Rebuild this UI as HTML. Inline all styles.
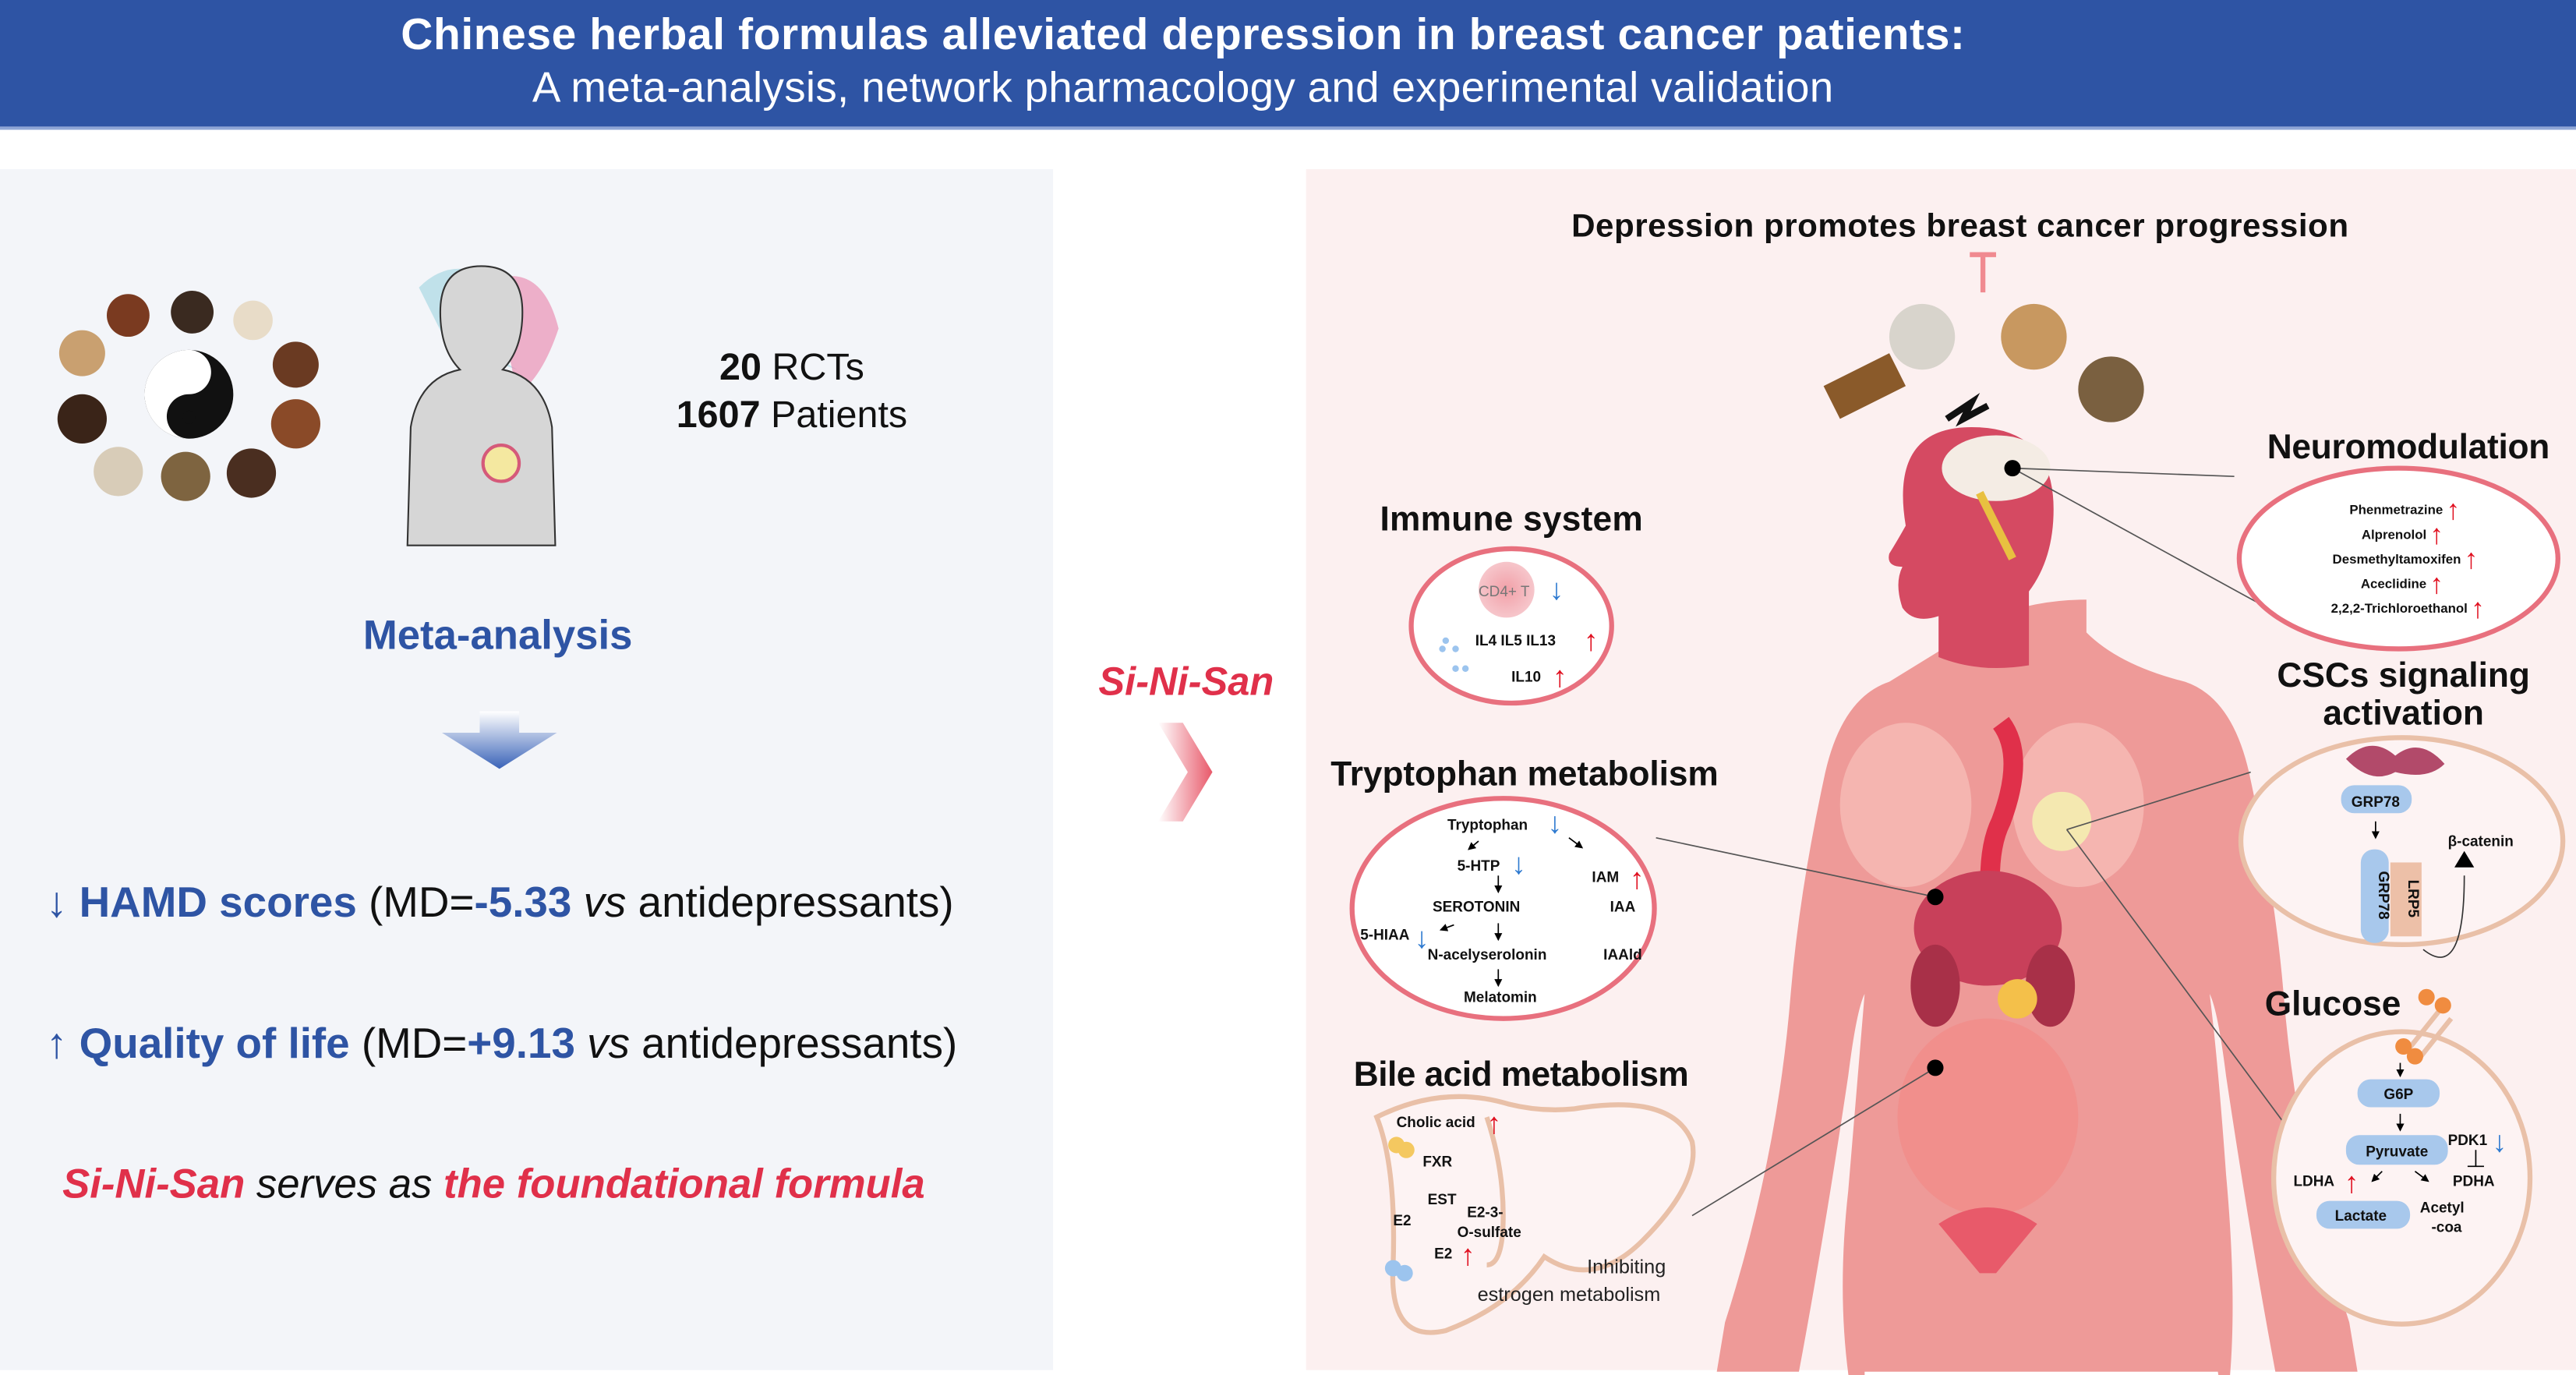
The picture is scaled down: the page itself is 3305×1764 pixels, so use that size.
<!DOCTYPE html>
<html><head><meta charset="utf-8"><style>
html,body{margin:0;padding:0;background:#fff;width:3305px;height:1764px;overflow:hidden;}
svg{display:block;}
text{font-family:"Liberation Sans","DejaVu Sans",sans-serif;}
</style></head><body>
<svg width="3305" height="1764" viewBox="0 0 1568 837" preserveAspectRatio="none" xmlns="http://www.w3.org/2000/svg">
<defs>
<linearGradient id="ag" x1="0" y1="0" x2="0" y2="1"><stop offset="0" stop-color="#fff"/><stop offset="1" stop-color="#3A63B8"/></linearGradient>
<linearGradient id="rg" x1="0" y1="0" x2="1" y2="0"><stop offset="0" stop-color="#fff"/><stop offset="1" stop-color="#E8596A"/></linearGradient>
<radialGradient id="cd4"><stop offset="0" stop-color="#F2A0A8"/><stop offset="1" stop-color="#F6C6CB"/></radialGradient>
<marker id="ah" markerWidth="6" markerHeight="6" refX="5" refY="3" orient="auto"><path d="M0,0 L6,3 L0,6z" fill="#000"/></marker>
</defs>
<rect width="1568" height="837" fill="#fff"/>
<rect width="1568" height="78" fill="#2E54A4"/>
<rect y="77" width="1568" height="2" fill="#8FA6D6"/>
<text x="720" y="30" text-anchor="middle" font-size="27" font-weight="bold" fill="#fff" textLength="952">Chinese herbal formulas alleviated depression in breast cancer patients:</text>
<text x="720" y="62" text-anchor="middle" font-size="26" fill="#fff" textLength="792">A meta-analysis, network pharmacology and experimental validation</text>

<rect x="0" y="103" width="641" height="731" fill="#F3F5F9"/>
<rect x="795" y="103" width="773" height="731" fill="#FCF0F0"/>

<g>
<circle cx="115" cy="240" r="27" fill="#111"/>
<path d="M115,213 a13.5,13.5 0 0 1 0,27 a13.5,13.5 0 0 0 0,27 a27,27 0 0 1 0,-54z" fill="#fff"/>
<circle cx="115" cy="227" r="4" fill="#fff"/><circle cx="115" cy="254" r="4" fill="#111"/>
<circle cx="78" cy="192" r="13" fill="#7A3A20"/><circle cx="117" cy="190" r="13" fill="#3A2A20"/><circle cx="154" cy="195" r="12" fill="#E8DCC8"/>
<circle cx="50" cy="215" r="14" fill="#C9A070"/><circle cx="180" cy="222" r="14" fill="#6A3A22"/>
<circle cx="50" cy="255" r="15" fill="#3A2418"/><circle cx="180" cy="258" r="15" fill="#8A4A28"/>
<circle cx="72" cy="287" r="15" fill="#D8CCB8"/><circle cx="113" cy="290" r="15" fill="#7E6440"/><circle cx="153" cy="288" r="15" fill="#4A2E20"/>
</g>
<g>
<path d="M255,175 q20,-20 45,-5 q20,30 10,35 q-15,10 5,20 q-30,-10 -40,-10 z" fill="#9FD3E0" opacity=".6"/>
<path d="M300,170 q30,-10 40,30 q-10,30 -25,40 z" fill="#E86A9A" opacity=".5"/>
<path d="M248,332 L250,260 q5,-30 30,-35 q-12,-12 -12,-35 q0,-28 25,-28 q25,0 25,28 q0,23 -12,35 q25,5 30,35 L338,332z" fill="#D6D6D6" stroke="#333" stroke-width="1"/>
<circle cx="305" cy="282" r="11" fill="#F4E8A0" stroke="#D55A7A" stroke-width="2"/>
</g>
<text x="482" y="231" text-anchor="middle" font-size="23" fill="#111"><tspan font-weight="bold">20</tspan> RCTs</text>
<text x="482" y="260" text-anchor="middle" font-size="23" fill="#111"><tspan font-weight="bold">1607</tspan> Patients</text>
<text x="303" y="395" text-anchor="middle" font-size="25" font-weight="bold" fill="#2E54A4">Meta-analysis</text>
<path d="M292,433 h24 v13 h23 l-35,22 l-35,-22 h23z" fill="url(#ag)"/>
<text x="28" y="558" font-size="26" fill="#111"><tspan fill="#2E54A4" font-weight="bold">↓ HAMD scores</tspan> (MD=<tspan fill="#2E54A4" font-weight="bold">-5.33</tspan> <tspan font-style="italic">vs</tspan> antidepressants)</text>
<text x="28" y="644" font-size="26" fill="#111"><tspan fill="#2E54A4" font-weight="bold">↑ Quality of life</tspan> (MD=<tspan fill="#2E54A4" font-weight="bold">+9.13</tspan> <tspan font-style="italic">vs</tspan> antidepressants)</text>
<text x="38" y="729" font-size="25" fill="#111" font-style="italic"><tspan fill="#E0304A" font-weight="bold">Si-Ni-San</tspan> serves as <tspan fill="#E0304A" font-weight="bold">the foundational formula</tspan></text>

<text x="722" y="423" text-anchor="middle" font-size="24" font-weight="bold" font-style="italic" fill="#E0304A">Si-Ni-San</text>
<path d="M705,440 h15 l18,30 l-18,30 h-15 l18,-30z" fill="url(#rg)"/>

<text x="1193" y="144" text-anchor="middle" font-size="20" font-weight="bold" fill="#111" textLength="473">Depression promotes breast cancer progression</text>
<path d="M1199,155 h16 M1207,155 v23" stroke="#F08A90" stroke-width="3"/>
<g>
<circle cx="1170" cy="205" r="20" fill="#D8D4CC"/><circle cx="1238" cy="205" r="20" fill="#C89860"/><circle cx="1285" cy="237" r="20" fill="#7A6040"/>
<path d="M1110,235 l40,-20 l10,20 l-40,20z" fill="#8A5A2A"/>
<path d="M1185,255 l15,-10 l-5,10 l15,-8" stroke="#111" stroke-width="4" fill="none"/>
</g>
<path d="M1150,415 q-30,10 -40,60 q-15,70 -20,130 q-8,100 -40,200 l-5,30 h50 q15,-80 30,-180 q5,-40 10,-50 q-5,60 -10,120 q-10,90 10,160 l0,-50 h215 q5,30 0,50 q15,-60 5,-170 q-5,-70 -10,-110 q5,10 10,50 q15,100 30,180 h50 l-5,-30 q-32,-100 -40,-200 q-5,-60 -20,-130 q-10,-50 -40,-60 q-40,-10 -60,-30 l0,-20 q-30,0 -55,10 z" fill="#EE9A98"/>
<path d="M1160,320 q-10,-60 40,-60 q50,0 50,50 q0,30 -15,50 l0,45 q-30,5 -55,-5 l0,-25 q-15,5 -22,-5 q-5,-15 0,-25 q-10,0 -8,-8 q5,-8 10,-17z" fill="#D54A62"/>
<ellipse cx="1215" cy="285" rx="33" ry="20" fill="#F4ECE4"/>
<path d="M1205,300 l20,40" stroke="#E8C040" stroke-width="5"/>
<ellipse cx="1160" cy="490" rx="40" ry="50" fill="#F5B5B0"/><ellipse cx="1265" cy="490" rx="40" ry="50" fill="#F5B5B0"/>
<circle cx="1255" cy="500" r="18" fill="#F4E8B0"/>
<path d="M1218,440 q15,20 0,60 q-10,20 -5,60" stroke="#E0304A" stroke-width="12" fill="none"/>
<ellipse cx="1210" cy="565" rx="45" ry="35" fill="#C8405A"/>
<ellipse cx="1178" cy="600" rx="15" ry="25" fill="#A83048"/><ellipse cx="1248" cy="600" rx="15" ry="25" fill="#A83048"/>
<circle cx="1228" cy="608" r="12" fill="#F4C04A"/>
<ellipse cx="1210" cy="680" rx="55" ry="60" fill="#F28A88" opacity=".7"/>
<path d="M1180,745 q30,-20 60,0 l-25,30 h-10z" fill="#E85A6A"/>
<g stroke="#555" stroke-width=".8" fill="none">
<path d="M1225,285 L1360,290"/><path d="M1225,285 L1380,370"/>
<path d="M1008,510 L1178,546"/><path d="M1030,740 L1178,650"/>
<path d="M1258,505 L1370,470"/><path d="M1258,505 L1395,690"/>
</g>
<circle cx="1225" cy="285" r="5" fill="#000"/><circle cx="1178" cy="546" r="5" fill="#000"/><circle cx="1178" cy="650" r="5" fill="#000"/>

<text x="920" y="323" text-anchor="middle" font-size="21" font-weight="bold" fill="#111" textLength="160">Immune system</text>
<ellipse cx="920" cy="381" rx="61" ry="47" fill="#fff" stroke="#E8707E" stroke-width="3"/>
<circle cx="917" cy="359" r="17" fill="url(#cd4)"/>
<text x="900" y="363" font-size="9" fill="#777">CD4+ T</text><text x="943" y="365" font-size="18" fill="#2E7AD0" font-weight="bold">↓</text>
<text x="898" y="393" font-size="9" font-weight="bold" fill="#111">IL4  IL5  IL13</text><text x="964" y="396" font-size="18" fill="#E01020" font-weight="bold">↑</text>
<text x="920" y="415" font-size="9" font-weight="bold" fill="#111">IL10</text><text x="945" y="418" font-size="18" fill="#E01020" font-weight="bold">↑</text>
<g fill="#9CC4EE"><circle cx="880" cy="390" r="2"/><circle cx="886" cy="395" r="2"/><circle cx="878" cy="395" r="2"/><circle cx="886" cy="407" r="2"/><circle cx="892" cy="407" r="2"/></g>

<text x="928" y="478" text-anchor="middle" font-size="21" font-weight="bold" fill="#111" textLength="236">Tryptophan metabolism</text>
<ellipse cx="915" cy="553" rx="92" ry="67" fill="#fff" stroke="#E8707E" stroke-width="3"/>
<g font-size="9" font-weight="bold" fill="#111">
<text x="881" y="505">Tryptophan</text><text x="887" y="530">5-HTP</text><text x="872" y="555">SEROTONIN</text>
<text x="828" y="572">5-HIAA</text><text x="869" y="584">N-acelyserolonin</text><text x="891" y="610">Melatomin</text>
<text x="969" y="537">IAM</text><text x="980" y="555">IAA</text><text x="976" y="584">IAAld</text>
</g>
<g font-size="18" font-weight="bold"><text x="942" y="507" fill="#2E7AD0">↓</text><text x="920" y="532" fill="#2E7AD0">↓</text><text x="861" y="577" fill="#2E7AD0">↓</text><text x="992" y="541" fill="#E01020">↑</text></g>
<g stroke="#000" stroke-width=".8" marker-end="url(#ah)"><path d="M912,533 v10"/><path d="M912,562 v10"/><path d="M912,590 v10"/><path d="M900,512 l-6,5"/><path d="M955,510 l8,6"/><path d="M885,563 l-8,3"/></g>

<text x="926" y="661" text-anchor="middle" font-size="21" font-weight="bold" fill="#111" textLength="204">Bile acid metabolism</text>
<path d="M838,680 q40,-20 80,-8 q20,5 40,3 q60,-10 72,20 q5,25 -30,60 q-30,30 -60,10 q-20,30 -60,45 q-35,8 -32,-40 q2,-60 -10,-90z" fill="#FDF3F3" stroke="#E9C0A8" stroke-width="3"/>
<path d="M905,680 q10,30 10,60 q0,30 -10,30" stroke="#E9C0A8" stroke-width="3" fill="none"/>
<g font-size="9" font-weight="bold" fill="#111">
<text x="850" y="686">Cholic acid</text><text x="866" y="710">FXR</text><text x="869" y="733">EST</text>
<text x="848" y="746">E2</text><text x="893" y="741">E2-3-</text><text x="887" y="753">O-sulfate</text><text x="873" y="766">E2</text>
</g>
<g font-size="18" font-weight="bold" fill="#E01020"><text x="905" y="690">↑</text><text x="889" y="770">↑</text></g>
<text x="990" y="775" text-anchor="middle" font-size="12" fill="#222">Inhibiting</text>
<text x="955" y="792" text-anchor="middle" font-size="12" fill="#222">estrogen metabolism</text>
<circle cx="850" cy="697" r="5" fill="#F4C860"/><circle cx="856" cy="700" r="5" fill="#F4C860"/>
<circle cx="848" cy="772" r="5" fill="#9CC4EE"/><circle cx="855" cy="775" r="5" fill="#9CC4EE"/>

<text x="1466" y="279" text-anchor="middle" font-size="21" font-weight="bold" fill="#111" textLength="172">Neuromodulation</text>
<ellipse cx="1460" cy="340" rx="97" ry="55" fill="#fff" stroke="#E8707E" stroke-width="3"/>
<g font-size="8" font-weight="bold" fill="#111" text-anchor="end">
<text x="1487" y="313">Phenmetrazine</text><text x="1477" y="328">Alprenolol</text><text x="1498" y="343">Desmethyltamoxifen</text><text x="1477" y="358">Aceclidine</text><text x="1502" y="373">2,2,2-Trichloroethanol</text>
</g>
<g font-size="17" font-weight="bold" fill="#E01020"><text x="1489" y="316">↑</text><text x="1479" y="331">↑</text><text x="1500" y="346">↑</text><text x="1479" y="361">↑</text><text x="1504" y="376">↑</text></g>

<text x="1463" y="418" text-anchor="middle" font-size="21" font-weight="bold" fill="#111">CSCs signaling</text>
<text x="1463" y="441" text-anchor="middle" font-size="21" font-weight="bold" fill="#111">activation</text>
<ellipse cx="1462" cy="512" rx="98" ry="63" fill="#FDF3F3" stroke="#E9C0A8" stroke-width="3"/>
<path d="M1428,462 q15,-15 30,-2 q15,-12 30,5 q-10,10 -30,5 q-15,8 -30,-8z" fill="#B24A6A"/>
<rect x="1425" y="478" width="43" height="17" rx="8" fill="#A8C8EC"/><text x="1446" y="491" text-anchor="middle" font-size="9" font-weight="bold" fill="#111">GRP78</text>
<rect x="1437" y="517" width="17" height="57" rx="8" fill="#A8C8EC"/><rect x="1455" y="525" width="19" height="45" fill="#EDC0A8"/>
<text x="1448" y="545" font-size="9" font-weight="bold" fill="#111" transform="rotate(90 1448 545)" text-anchor="middle">GRP78</text>
<text x="1466" y="547" font-size="9" font-weight="bold" fill="#111" transform="rotate(90 1466 547)" text-anchor="middle">LRP5</text>
<text x="1490" y="515" font-size="9" font-weight="bold" fill="#111">β-catenin</text>
<path d="M1500,518 l6,10 h-12z" fill="#000"/>
<path d="M1475,578 q25,20 25,-45" stroke="#333" stroke-width=".8" fill="none"/>
<path d="M1446,500 v10" stroke="#000" stroke-width=".8" marker-end="url(#ah)"/>

<text x="1420" y="618" text-anchor="middle" font-size="21" font-weight="bold" fill="#111">Glucose</text>
<ellipse cx="1462" cy="717" rx="78" ry="89" fill="#FDF3F3" stroke="#E9C0A8" stroke-width="3"/>
<path d="M1465,640 l20,-25 M1472,645 l20,-25" stroke="#E9C0A8" stroke-width="3"/>
<g fill="#F08C40"><circle cx="1477" cy="607" r="5"/><circle cx="1487" cy="612" r="5"/><circle cx="1463" cy="637" r="5"/><circle cx="1470" cy="643" r="5"/></g>
<rect x="1435" y="657" width="50" height="17" rx="8" fill="#A8C8EC"/><text x="1460" y="669" text-anchor="middle" font-size="9" font-weight="bold" fill="#111">G6P</text>
<rect x="1428" y="691" width="62" height="18" rx="8" fill="#A8C8EC"/><text x="1459" y="704" text-anchor="middle" font-size="9" font-weight="bold" fill="#111">Pyruvate</text>
<rect x="1410" y="731" width="57" height="17" rx="8" fill="#A8C8EC"/><text x="1437" y="743" text-anchor="middle" font-size="9" font-weight="bold" fill="#111">Lactate</text>
<g font-size="9" font-weight="bold" fill="#111"><text x="1490" y="697">PDK1</text><text x="1493" y="722">PDHA</text><text x="1396" y="722">LDHA</text><text x="1473" y="738">Acetyl</text><text x="1480" y="750">-coa</text></g>
<g font-size="18" font-weight="bold"><text x="1517" y="701" fill="#2E7AD0">↓</text><text x="1427" y="726" fill="#E01020">↑</text></g>
<g stroke="#000" stroke-width=".8" marker-end="url(#ah)"><path d="M1461,647 v8"/><path d="M1461,678 v10"/><path d="M1450,713 l-6,6"/><path d="M1470,713 l8,6"/></g>
<path d="M1507,700 v10 M1502,710 h10" stroke="#000" stroke-width=".8"/>
</svg>
</body></html>
